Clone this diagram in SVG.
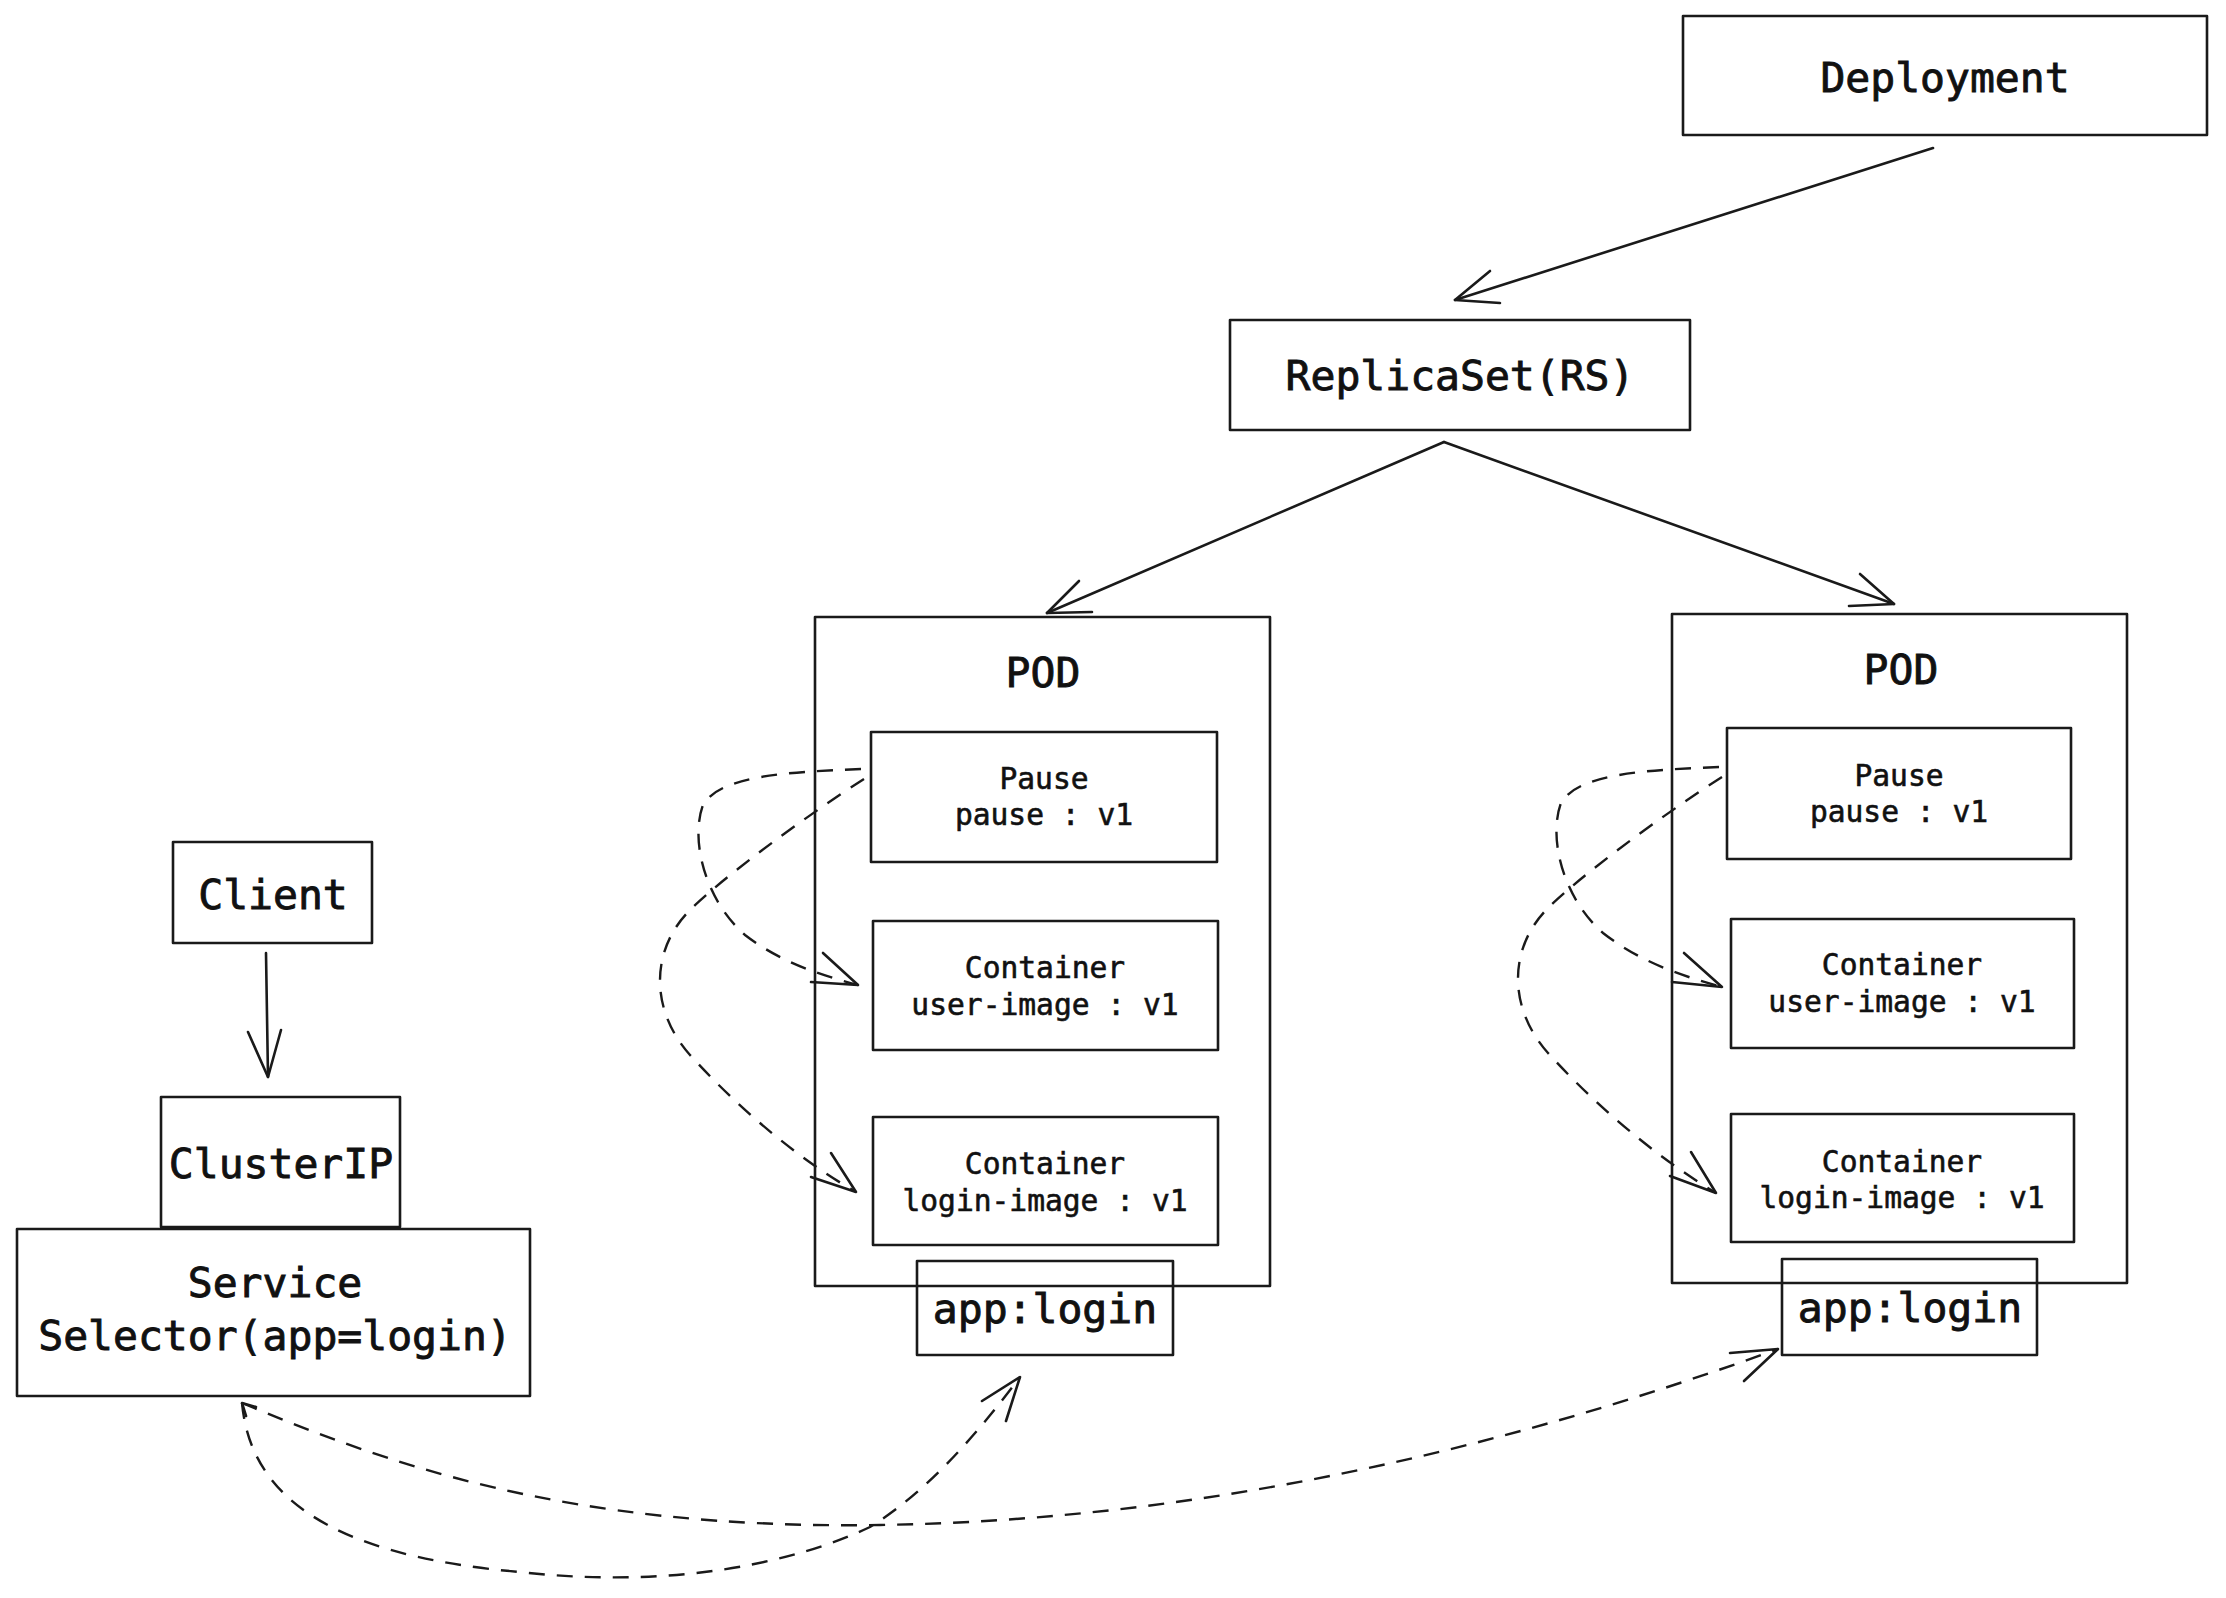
<svg xmlns="http://www.w3.org/2000/svg" width="2226" height="1598" viewBox="0 0 2226 1598">
<style>
  .box { fill: none; stroke: #1a1a1a; stroke-width: 2.6; stroke-linejoin: round; }
  .lg { font-family: "DejaVu Sans Mono", "Liberation Mono", monospace; font-size: 41.4px; fill: #111; stroke: #111; stroke-width: 0.9; text-anchor: middle; }
  .sm { font-family: "DejaVu Sans Mono", "Liberation Mono", monospace; font-size: 29.6px; fill: #111; stroke: #111; stroke-width: 0.6; text-anchor: middle; }
  .line { fill: none; stroke: #1a1a1a; stroke-width: 2.6; stroke-linecap: round; }
  .dash { fill: none; stroke: #1a1a1a; stroke-width: 2.4; stroke-dasharray: 16 12; stroke-linecap: butt; }
  .head { fill: none; stroke: #1a1a1a; stroke-width: 2.6; stroke-linecap: round; stroke-linejoin: round; }
</style>
<rect width="2226" height="1598" fill="#ffffff"/>

<g id="deployment">
  <rect class="box" x="1683" y="16" width="524" height="119"/>
  <text class="lg" x="1945" y="92">Deployment</text>
</g>

<g id="replicaset">
  <rect class="box" x="1230" y="320" width="460" height="110"/>
  <text class="lg" x="1460" y="390">ReplicaSet(RS)</text>
</g>

<g id="pod-left">
  <rect class="box" x="815" y="617" width="455" height="669"/>
  <text class="lg" x="1043" y="687">POD</text>
</g>
<g id="pause-left">
  <rect class="box" x="871" y="732" width="346" height="130"/>
  <text class="sm" x="1044" y="789">Pause</text>
  <text class="sm" x="1044" y="825">pause : v1</text>
</g>
<g id="user-left">
  <rect class="box" x="873" y="921" width="345" height="129"/>
  <text class="sm" x="1045" y="978">Container</text>
  <text class="sm" x="1045" y="1015">user-image : v1</text>
</g>
<g id="login-left">
  <rect class="box" x="873" y="1117" width="345" height="128"/>
  <text class="sm" x="1045" y="1174">Container</text>
  <text class="sm" x="1045" y="1211">login-image : v1</text>
</g>
<g id="label-left">
  <rect class="box" x="917" y="1261" width="256" height="94"/>
  <text class="lg" x="1045" y="1323">app:login</text>
</g>

<g id="pod-right">
  <rect class="box" x="1672" y="614" width="455" height="669"/>
  <text class="lg" x="1901" y="684">POD</text>
</g>
<g id="pause-right">
  <rect class="box" x="1727" y="728" width="344" height="131"/>
  <text class="sm" x="1899" y="786">Pause</text>
  <text class="sm" x="1899" y="822">pause : v1</text>
</g>
<g id="user-right">
  <rect class="box" x="1731" y="919" width="343" height="129"/>
  <text class="sm" x="1902" y="975">Container</text>
  <text class="sm" x="1902" y="1012">user-image : v1</text>
</g>
<g id="login-right">
  <rect class="box" x="1731" y="1114" width="343" height="128"/>
  <text class="sm" x="1902" y="1172">Container</text>
  <text class="sm" x="1902" y="1208">login-image : v1</text>
</g>
<g id="label-right">
  <rect class="box" x="1782" y="1259" width="255" height="96"/>
  <text class="lg" x="1910" y="1322">app:login</text>
</g>

<g id="client">
  <rect class="box" x="173" y="842" width="199" height="101"/>
  <text class="lg" x="273" y="909">Client</text>
</g>
<g id="clusterip">
  <rect class="box" x="161" y="1097" width="239" height="130"/>
  <text class="lg" x="281" y="1178">ClusterIP</text>
</g>
<g id="service">
  <rect class="box" x="17" y="1229" width="513" height="167"/>
  <text class="lg" x="275" y="1297">Service</text>
  <text class="lg" x="275" y="1350">Selector(app=login)</text>
</g>

<g id="connectors">
  <!-- Deployment -> RS -->
  <path class="line" d="M1933,148 L1455,300"/>
  <path class="head" d="M1490,271 L1455,300 L1500,303"/>
  <!-- RS -> left pod -->
  <path class="line" d="M1444,442 L1047,613"/>
  <path class="head" d="M1079,581 L1047,613 L1092,612"/>
  <!-- RS -> right pod -->
  <path class="line" d="M1444,442 L1894,604"/>
  <path class="head" d="M1860,574 L1894,604 L1849,606"/>
  <!-- Client -> ClusterIP -->
  <path class="line" d="M266,953 L268,1077"/>
  <path class="head" d="M248,1032 L268,1077 L281,1030"/>

  <!-- left pod: pause -> containers -->
  <path class="dash" d="M861,769 C790,772 720,775 703,805 C690,840 705,900 745,935 C780,962 820,975 858,985"/>
  <path class="head" d="M823,953 L858,985 L811,982"/>
  <path class="dash" d="M864,779 C800,820 720,880 690,910 C650,950 650,1010 690,1055 C740,1110 800,1160 856,1192"/>
  <path class="head" d="M831,1153 L856,1192 L811,1177"/>

  <!-- right pod: pause -> containers -->
  <path class="dash" d="M1719,767 C1648,770 1578,773 1561,803 C1548,838 1563,898 1603,933 C1640,962 1682,976 1722,987"/>
  <path class="head" d="M1684,953 L1722,987 L1672,982"/>
  <path class="dash" d="M1722,777 C1658,818 1578,878 1548,908 C1508,948 1508,1008 1548,1053 C1598,1108 1658,1158 1716,1193"/>
  <path class="head" d="M1691,1152 L1716,1193 L1670,1176"/>

  <!-- service -> app:login labels -->
  <path class="head" d="M256,1407 L242,1403 L246,1416"/>
  <path class="dash" d="M242,1403 C380,1460 560,1530 880,1525 C1200,1520 1500,1450 1778,1349"/>
  <path class="head" d="M1730,1353 L1778,1349 L1744,1381"/>
  <path class="dash" d="M242,1403 C250,1490 320,1555 520,1572 C680,1590 800,1560 870,1527 C930,1490 980,1430 1020,1377"/>
  <path class="head" d="M982,1401 L1020,1377 L1006,1421"/>
</g>
</svg>
